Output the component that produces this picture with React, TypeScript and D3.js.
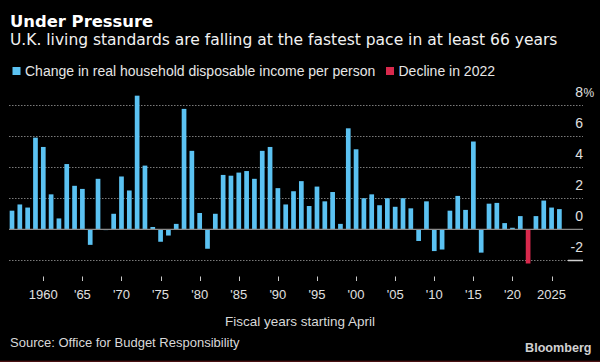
import React, { useEffect, useRef } from "react";
import * as d3 from "d3";

// fiscal years, starting April
const years = d3.range(1956, 2027);
// % change in real household disposable income per person
const values = [
  1.2, 1.6, 1.4, 5.9, 5.3, 2.25, 0.7, 4.2, 2.8, 2.6,
  -1.0, 3.25, -0.05, 1.0, 3.4, 2.5, 8.6, 4.1, 0.15, -0.8,
  -0.4, 0.35, 7.75, 5.05, 1.05, -1.25, 1.0, 3.5, 3.45, 3.65,
  3.75, 3.25, 5.05, 5.3, 2.65, 1.6, 2.45, 3.1, 1.5, 2.75,
  1.8, 2.4, 0.35, 6.5, 5.15, 2.0, 2.25, 1.55, 2.0, 1.45,
  2.0, 1.35, -0.75, 1.8, -1.4, -1.3, 1.2, 2.15, 1.25, 5.65,
  -1.5, 1.65, 1.7, 0.4, 0.1, 0.85, -2.2, 0.85, 1.85, 1.4, 1.3,
];
const highlightYear = 2022;
const yTicks = [-2, 0, 2, 4, 6, 8];
const xTicks = [1960, 1965, 1970, 1975, 1980, 1985, 1990, 1995, 2000, 2005, 2010, 2015, 2020, 2025];
const xTickLabels = ["1960", "'65", "'70", "'75", "'80", "'85", "'90", "'95", "'00", "'05", "'10", "'15", "'20", "2025"];

const BLUE = "#5bc2f2";
const RED = "#d8294c";
const SMALL = "'Liberation Sans', Arial, sans-serif";
const HEAD = "'DejaVu Sans', Verdana, sans-serif";

export default function App() {
  const divRef = useRef<HTMLDivElement>(null);

  useEffect(() => {
    if (!divRef.current) return;
    const width = 600,
      height = 362;

    const svg = d3
      .select(divRef.current)
      .append("svg")
      .attr("width", width)
      .attr("height", height)
      .style("display", "block");

    svg.append("rect").attr("width", width).attr("height", height).attr("fill", "#000");

    // titles
    svg
      .append("text")
      .attr("x", 10)
      .attr("y", 26.5)
      .attr("fill", "#fff")
      .style("font-family", HEAD)
      .style("font-weight", "bold")
      .style("font-size", "16.4px")
      .text("Under Pressure");
    svg
      .append("text")
      .attr("x", 10)
      .attr("y", 45)
      .attr("fill", "#f2f2f2")
      .style("font-family", HEAD)
      .style("font-size", "15.5px")
      .text("U.K. living standards are falling at the fastest pace in at least 66 years");

    // legend
    const legend = [
      { x: 12.5, color: BLUE, label: "Change in real household disposable income per person" },
      { x: 386, color: RED, label: "Decline in 2022" },
    ];
    legend.forEach((d) => {
      svg.append("rect").attr("x", d.x).attr("y", 67).attr("width", 8).attr("height", 8).attr("fill", d.color);
      svg
        .append("text")
        .attr("x", d.x + 12.5)
        .attr("y", 75.5)
        .attr("fill", "#e6e6e6")
        .style("font-family", SMALL)
        .style("font-size", "14px")
        .text(d.label);
    });

    // scales
    const x = d3
      .scaleBand<number>()
      .domain(years)
      .range([8.1, 563.3])
      .paddingInner(0.4)
      .paddingOuter(0.2);
    const y = d3.scaleLinear().domain([-2, 8]).range([260.4, 105]);
    const cx = (yr: number) => (x(yr) ?? 0) + x.bandwidth() / 2;

    // gridlines
    svg
      .append("g")
      .selectAll("line")
      .data(yTicks.filter((t) => t !== 0))
      .enter()
      .append("line")
      .attr("x1", 9)
      .attr("x2", 583)
      .attr("y1", (d) => Math.round(y(d)) + 0.5)
      .attr("y2", (d) => Math.round(y(d)) + 0.5)
      .attr("stroke", "#7a7a7a")
      .attr("stroke-width", 1)
      .attr("stroke-dasharray", "1.5 1.5");

    // short solid mark on the -2 line
    svg
      .append("line")
      .attr("x1", 568)
      .attr("x2", 583)
      .attr("y1", Math.round(y(-2)) + 0.5)
      .attr("y2", Math.round(y(-2)) + 0.5)
      .attr("stroke", "#d0d0d0")
      .attr("stroke-width", 1.5);

    // y labels
    svg
      .append("g")
      .selectAll("text")
      .data(yTicks)
      .enter()
      .append("text")
      .attr("x", 583)
      .attr("y", (d) => y(d) - 8)
      .attr("text-anchor", "end")
      .attr("fill", "#e0e0e0")
      .style("font-family", SMALL)
      .style("font-size", "14px")
      .text((d) => (d < 0 ? "-" + Math.abs(d) : String(d)));
    svg
      .append("text")
      .attr("x", 583.5)
      .attr("y", y(8) - 8)
      .attr("fill", "#e0e0e0")
      .style("font-family", SMALL)
      .style("font-size", "12px")
      .text("%");

    // bars
    svg
      .append("g")
      .selectAll("rect")
      .data(years)
      .enter()
      .append("rect")
      .attr("x", (d) => x(d) ?? 0)
      .attr("width", x.bandwidth())
      .attr("y", (d, i) => y(Math.max(0, values[i])))
      .attr("height", (d, i) => Math.abs(y(values[i]) - y(0)))
      .attr("fill", (d) => (d === highlightYear ? RED : BLUE));

    // zero line
    svg
      .append("line")
      .attr("x1", 9)
      .attr("x2", 583)
      .attr("y1", y(0))
      .attr("y2", y(0))
      .attr("stroke", "#8a8a8a")
      .attr("stroke-width", 1.2);

    // x ticks
    const xAxis = svg.append("g");
    xAxis
      .selectAll("line")
      .data(xTicks)
      .enter()
      .append("line")
      .attr("x1", (d) => Math.round(cx(d)) + 0.5)
      .attr("x2", (d) => Math.round(cx(d)) + 0.5)
      .attr("y1", 276.5)
      .attr("y2", 281)
      .attr("stroke", "#c8c8c8");
    xAxis
      .selectAll("text")
      .data(xTicks)
      .enter()
      .append("text")
      .attr("x", (d) => cx(d))
      .attr("y", 299.3)
      .attr("text-anchor", "middle")
      .attr("fill", "#e0e0e0")
      .style("font-family", SMALL)
      .style("font-size", "13px")
      .text((d, i) => xTickLabels[i]);

    svg
      .append("text")
      .attr("x", 300)
      .attr("y", 326)
      .attr("text-anchor", "middle")
      .attr("fill", "#d8d8d8")
      .style("font-family", SMALL)
      .style("font-size", "13.5px")
      .text("Fiscal years starting April");

    // footer
    svg
      .append("text")
      .attr("x", 10)
      .attr("y", 347.3)
      .attr("fill", "#d8d8d8")
      .style("font-family", SMALL)
      .style("font-size", "13px")
      .text("Source: Office for Budget Responsibility");
    svg
      .append("text")
      .attr("x", 591.5)
      .attr("y", 352.3)
      .attr("text-anchor", "end")
      .attr("fill", "#d0d0d0")
      .style("font-family", SMALL)
      .style("font-weight", "bold")
      .style("font-size", "12.6px")
      .text("Bloomberg");

    svg.append("rect").attr("x", 0).attr("y", 360.7).attr("width", width).attr("height", 1.3).attr("fill", "#4a1214");

    return () => {
      if (!divRef.current) return;
      // eslint-disable-next-line react-hooks/exhaustive-deps
      divRef.current.innerHTML = "";
    };
  }, []);

  return <div style={{ position: "absolute", left: 0, top: 0, width: 600, height: 362 }} ref={divRef}></div>;
}
